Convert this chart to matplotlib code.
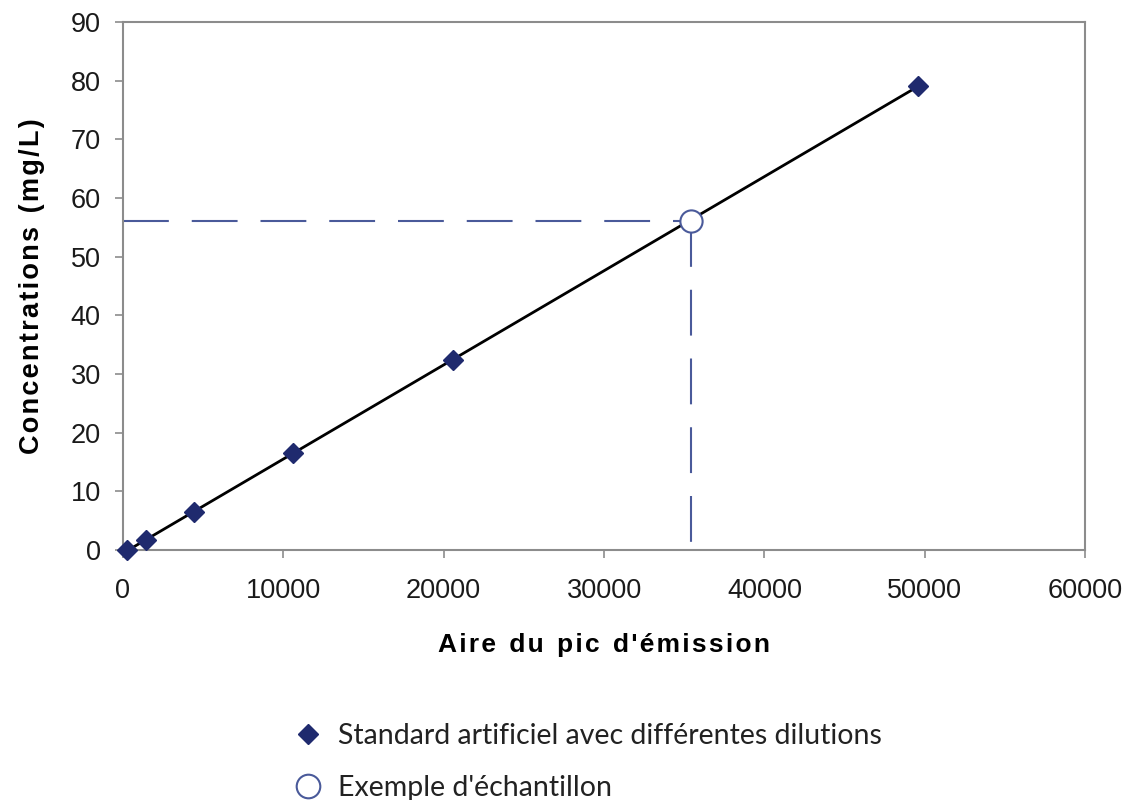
import numpy as np
import matplotlib.pyplot as plt
from matplotlib.lines import Line2D

# standards: peak area vs concentration
aire = [270, 1430, 4410, 10600, 20600, 49600]
conc = [0.0, 1.7, 6.5, 16.5, 32.4, 79.1]

# sample
ech_aire = [35400]
ech_conc = [56.1]

navy = '#1f2a6e'
guide = '#4a5a9a'

plt.rcParams['font.family'] = ['Liberation Sans', 'DejaVu Sans']

fig = plt.figure(figsize=(11.28, 8), dpi=100)
ax = fig.add_axes([0.109, 0.3125, 0.853, 0.66])

# linear calibration fit
a, b = np.polyfit(aire, conc, 1)
xs = np.array([min(aire), max(aire)])
ax.plot(xs, a * xs + b, color='black', lw=2, zorder=2)

# reading guides for the sample
ax.plot([0, ech_aire[0]], [ech_conc[0], ech_conc[0]], color=guide, lw=1.5,
        dashes=(22, 11), zorder=1)
ax.plot([ech_aire[0], ech_aire[0]], [ech_conc[0], 0], color=guide, lw=1.5,
        dashes=(22, 11), zorder=1)

ax.plot(aire, conc, 'D', color=navy, markersize=10, zorder=3, clip_on=False)
ax.plot(ech_aire, ech_conc, 'o', markerfacecolor='white', markeredgecolor=guide,
        markeredgewidth=1.5, markersize=16, zorder=4)

ax.set_xlim(0, 60000)
ax.set_ylim(0, 90)
ax.set_xticks(range(0, 60001, 10000))
ax.set_yticks(range(0, 91, 10))
for s in ax.spines.values():
    s.set_color('#8c8c8c')
    s.set_linewidth(1.5)
ax.tick_params(direction='out', length=6, width=1.2, color='#8c8c8c',
               labelsize=19.5, labelcolor='#1a1a1a')
ax.tick_params(axis='x', pad=14)
ax.tick_params(axis='y', pad=10)

ax.set_xlabel("A i r e   d u   p i c   d ' é m i s s i o n".replace('   ', '\u2002').replace(' ', '\u200a'),
              fontsize=19, fontweight='bold', labelpad=21)
ax.set_ylabel('C o n c e n t r a t i o n s   ( m g / L )'.replace('   ', '\u2002').replace(' ', '\u200a'),
              fontsize=19.5, fontweight='bold', labelpad=18)

handles = [
    Line2D([], [], marker='D', color=navy, linestyle='none', markersize=10),
    Line2D([], [], marker='o', markerfacecolor='white', markeredgecolor=guide,
           markeredgewidth=1.5, linestyle='none', markersize=17),
]
labels = ['Standard artificiel avec différentes dilutions', "Exemple d'échantillon"]
fig.legend(handles, labels, loc='upper left', bbox_to_anchor=(0.235, 0.128),
           frameon=False, prop={'family': 'Lato', 'size': 20.5},
           labelcolor='#222222', handletextpad=0.45, labelspacing=0.9,
           handlelength=1.2)

fig.savefig('out.png', dpi=100)
